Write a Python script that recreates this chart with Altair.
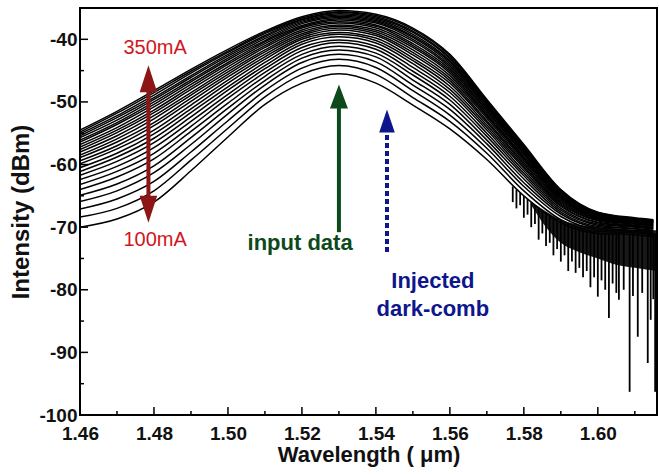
import altair as alt
import pandas as pd

# ---------------- data ----------------
currents = [100, 110, 120, 130, 140, 150, 160, 170, 180, 190, 200, 210, 220,
            230, 240, 250, 260, 270, 280, 290, 300, 310, 320, 330, 340, 350]

wavelengths = [1.46, 1.47, 1.48, 1.49, 1.50, 1.51, 1.52, 1.53, 1.54, 1.55,
               1.56, 1.57, 1.58, 1.59, 1.60, 1.61, 1.615]

# intensity (dBm) of every current at each wavelength (bottom curve first)
at_1460 = [-70.0, -68.4, -67.1, -65.9, -64.9, -64.0, -63.2, -62.4, -61.7, -61.1, -60.5, -59.9, -59.4,
           -58.9, -58.5, -58.0, -57.6, -57.2, -56.8, -56.4, -56.1, -55.7, -55.4, -55.1, -54.8, -54.5]
at_1470 = [-68.7, -67.0, -65.5, -64.2, -63.1, -62.0, -61.1, -60.3, -59.5, -58.8, -58.2, -57.5, -57.0,
           -56.4, -55.9, -55.4, -54.9, -54.5, -54.1, -53.6, -53.3, -52.9, -52.5, -52.2, -51.8, -51.5]
at_1480 = [-66.0, -64.2, -62.7, -61.3, -60.2, -59.1, -58.2, -57.3, -56.5, -55.8, -55.1, -54.5, -53.8,
           -53.3, -52.7, -52.2, -51.7, -51.3, -50.8, -50.4, -50.0, -49.6, -49.3, -48.9, -48.5, -48.2]
at_1490 = [-61.0, -59.3, -58.0, -56.8, -55.7, -54.7, -53.9, -53.1, -52.4, -51.7, -51.1, -50.5, -49.9,
           -49.4, -48.9, -48.5, -48.0, -47.6, -47.2, -46.8, -46.5, -46.1, -45.8, -45.4, -45.1, -44.8]
at_1500 = [-55.6, -54.2, -53.0, -51.9, -51.0, -50.2, -49.4, -48.8, -48.1, -47.6, -47.0, -46.5, -46.0,
           -45.6, -45.2, -44.8, -44.4, -44.0, -43.7, -43.3, -43.0, -42.7, -42.4, -42.1, -41.9, -41.6]
at_1510 = [-50.4, -49.2, -48.2, -47.3, -46.6, -45.9, -45.3, -44.7, -44.2, -43.7, -43.2, -42.8, -42.4,
           -42.0, -41.7, -41.3, -41.0, -40.7, -40.4, -40.2, -39.9, -39.6, -39.4, -39.1, -38.9, -38.7]
at_1520 = [-47.0, -45.6, -44.6, -43.7, -43.0, -42.4, -41.8, -41.3, -40.8, -40.4, -40.0, -39.7, -39.4,
           -39.1, -38.8, -38.5, -38.2, -38.0, -37.8, -37.5, -37.3, -37.1, -36.9, -36.8, -36.6, -36.4]
at_1530 = [-45.5, -44.2, -43.2, -42.4, -41.7, -41.1, -40.5, -40.1, -39.6, -39.2, -38.9, -38.5, -38.2,
           -37.9, -37.7, -37.4, -37.2, -36.9, -36.7, -36.5, -36.3, -36.1, -35.9, -35.7, -35.6, -35.4]
at_1540 = [-47.0, -45.6, -44.5, -43.6, -42.8, -42.2, -41.6, -41.1, -40.6, -40.2, -39.8, -39.4, -39.1,
           -38.8, -38.5, -38.2, -37.9, -37.7, -37.4, -37.2, -37.0, -36.8, -36.6, -36.4, -36.2, -36.0]
at_1550 = [-50.5, -49.3, -48.2, -47.3, -46.5, -45.7, -45.1, -44.5, -43.9, -43.4, -43.0, -42.5, -42.1,
           -41.7, -41.3, -41.0, -40.7, -40.3, -40.0, -39.7, -39.5, -39.2, -38.9, -38.7, -38.4, -38.2]
at_1560 = [-54.3, -53.1, -52.1, -51.2, -50.4, -49.7, -49.1, -48.5, -48.0, -47.5, -47.0, -46.6, -46.2,
           -45.8, -45.4, -45.1, -44.8, -44.5, -44.2, -43.9, -43.6, -43.4, -43.1, -42.9, -42.6, -42.4]
at_1570 = [-59.2, -58.2, -57.4, -56.7, -56.1, -55.5, -55.0, -54.5, -54.1, -53.7, -53.3, -53.0, -52.6,
           -52.3, -52.1, -51.8, -51.5, -51.3, -51.0, -50.8, -50.6, -50.4, -50.2, -50.0, -49.8, -49.6]
at_1580 = [-65.0, -64.2, -63.5, -62.9, -62.3, -61.8, -61.4, -61.0, -60.6, -60.3, -60.0, -59.7, -59.4,
           -59.1, -58.9, -58.7, -58.4, -58.2, -58.0, -57.8, -57.6, -57.5, -57.3, -57.1, -57.0, -56.8]
at_1590 = [-69.3, -68.8, -68.3, -67.9, -67.6, -67.3, -67.0, -66.7, -66.5, -66.3, -66.1, -65.9, -65.7,
           -65.5, -65.4, -65.2, -65.1, -64.9, -64.8, -64.7, -64.5, -64.4, -64.3, -64.2, -64.1, -64.0]
at_1600 = [-71.0, -70.7, -70.4, -70.1, -69.9, -69.7, -69.5, -69.3, -69.2, -69.0, -68.9, -68.8, -68.7,
           -68.6, -68.5, -68.4, -68.3, -68.2, -68.1, -68.0, -67.9, -67.9, -67.8, -67.7, -67.7, -67.6]
at_1610 = [-71.2, -70.9, -70.7, -70.5, -70.3, -70.2, -70.0, -69.9, -69.8, -69.7, -69.5, -69.5, -69.4,
           -69.3, -69.2, -69.1, -69.0, -69.0, -68.9, -68.8, -68.8, -68.7, -68.7, -68.6, -68.6, -68.5]
at_1615 = [-71.5, -71.2, -71.0, -70.8, -70.6, -70.5, -70.3, -70.2, -70.1, -70.0, -69.8, -69.8, -69.7,
           -69.6, -69.5, -69.4, -69.3, -69.3, -69.2, -69.1, -69.1, -69.0, -69.0, -68.9, -68.9, -68.8]

columns = [at_1460, at_1470, at_1480, at_1490, at_1500, at_1510, at_1520, at_1530, at_1540,
           at_1550, at_1560, at_1570, at_1580, at_1590, at_1600, at_1610, at_1615]

# noisy floor under the curves in the long-wavelength tail
noise_wl = [1.582, 1.586, 1.590, 1.595, 1.600, 1.605, 1.610, 1.616]
noise_hi = [-66.0, -67.5, -68.8, -69.6, -70.0, -70.2, -70.4, -70.5]
noise_lo = [-66.5, -70.0, -72.5, -74.0, -75.0, -76.0, -76.5, -77.0]

# noise dips in the long-wavelength tail
spike_wl = [1.577, 1.578, 1.579, 1.580, 1.581, 1.582, 1.583, 1.584, 1.585, 1.586, 1.587, 1.588,
            1.589, 1.590, 1.591, 1.592, 1.593, 1.594, 1.595, 1.596, 1.597, 1.598, 1.599, 1.600,
            1.601, 1.602, 1.603, 1.604, 1.605, 1.6057, 1.607, 1.6086, 1.6095, 1.6108, 1.612,
            1.6135, 1.6143, 1.615, 1.6155]
spike_top = [-63.5, -64.0, -64.5, -65.0, -65.5, -66.0, -66.5, -67.0, -67.3, -67.6, -68.0, -68.3,
             -68.6, -68.9, -69.2, -69.5, -69.7, -69.9, -70.1, -70.3, -70.5, -70.6, -70.7, -70.8,
             -70.9, -71.0, -71.0, -71.0, -71.0, -71.0, -71.0, -71.0, -71.0, -71.0, -71.0,
             -71.0, -71.0, -71.0, -71.0]
spike_bottom = [-66.0, -67.0, -66.5, -68.5, -68.0, -70.0, -69.5, -72.0, -71.0, -73.0, -72.5, -74.5,
                -73.5, -75.5, -74.5, -77.0, -75.5, -77.3, -76.5, -78.0, -77.0, -79.6, -78.0, -81.1,
                -78.5, -80.0, -84.5, -79.0, -80.5, -81.6, -80.0, -96.3, -81.0, -87.5, -80.5,
                -91.7, -84.8, -81.5, -96.3]

# axis ticks
x_major = [1.46, 1.48, 1.50, 1.52, 1.54, 1.56, 1.58, 1.60]
x_minor = [1.47, 1.49, 1.51, 1.53, 1.55, 1.57, 1.59, 1.61]
y_major = [-100, -90, -80, -70, -60, -50, -40]
y_minor = [-95, -85, -75, -65, -55, -45]

# annotations
shaft_wl = [1.4785, 1.5300]
shaft_from = [-48.0, -50.5]
shaft_to = [-65.5, -70.8]
shaft_color = ["#8C1515", "#0C4A1C"]

dash_wl = [1.5430]
dash_from = [-54.0]
dash_to = [-74.4]

head_wl = [1.4785, 1.4785, 1.5300, 1.5430]
head_db = [-44.15, -69.3, -47.2, -51.2]
head_color = ["#8C1515", "#8C1515", "#0C4A1C", "#0D168C"]

ma_text = ["350mA", "100mA"]
ma_wl = [1.4803, 1.4803]
ma_db = [-41.4, -72.1]

note_text = ["input data", "Injected", "dark-comb"]
note_wl = [1.5195, 1.5554, 1.5554]
note_db = [-72.5, -78.6, -83.1]
note_color = ["#0C4A1C", "#0D168C", "#0D168C"]

# ---------------- tables ----------------
rows = []
for wl, col in zip(wavelengths, columns):
    for cur, v in zip(currents, col):
        rows.append({"wl": wl, "dbm": v, "mA": cur})
spectra = pd.DataFrame(rows)

noise = pd.DataFrame({"wl": noise_wl, "dbm": noise_hi, "lo": noise_lo})
spikes = pd.DataFrame({"wl": spike_wl, "dbm": spike_top, "bottom": spike_bottom})
shafts = pd.DataFrame({"wl": shaft_wl, "dbm": shaft_from, "b": shaft_to, "c": shaft_color})
dashes = pd.DataFrame({"wl": dash_wl, "dbm": dash_from, "b": dash_to})
UP_RED = "M0,0L0.65,2L-0.65,2Z"
DOWN_RED = "M0,0L0.65,-2L-0.65,-2Z"
UP_GREEN = "M0,0L0.75,2L-0.75,2Z"
UP_BLUE = "M0,0L0.68,2L-0.68,2Z"
heads = pd.DataFrame({"wl": head_wl, "dbm": head_db, "c": head_color,
                      "shape": [UP_RED, DOWN_RED, UP_GREEN, UP_BLUE],
                      "size": [729, 729, 576, 529]})
ma = pd.DataFrame({"t": ma_text, "wl": ma_wl, "dbm": ma_db})
notes = pd.DataFrame({"t": note_text, "wl": note_wl, "dbm": note_db, "c": note_color})
xmaj = pd.DataFrame({"wl": x_major})
xmin = pd.DataFrame({"wl": x_minor})
ymaj = pd.DataFrame({"dbm": y_major})
ymin = pd.DataFrame({"dbm": y_minor})

W, H = 577, 407
FONT = "Liberation Sans"
xs = alt.Scale(domain=[1.46, 1.616], nice=False, zero=False)
ys = alt.Scale(domain=[-100, -35], nice=False, zero=False)
x_axis = alt.Axis(values=x_major, format=".2f", ticks=False, tickSize=0, domain=False, grid=False,
                  labelFlush=False, labelOverlap=False, labelPadding=9,
                  title="Wavelength ( μm)", titlePadding=1, titleFontSize=22)
y_axis = alt.Axis(values=y_major, labelExpr="'' + datum.value", ticks=False, tickSize=0,
                  domain=False, grid=False, labelFlush=False, labelOverlap=False, labelPadding=3,
                  title="Intensity (dBm)", titlePadding=5, titleFontSize=24)


def X():
    return alt.X("wl:Q", scale=xs, axis=x_axis, title="Wavelength ( μm)")


def Y():
    return alt.Y("dbm:Q", scale=ys, axis=y_axis, title="Intensity (dBm)")


lines = alt.Chart(spectra).mark_line(color="black", strokeWidth=1.5, interpolate="monotone",
                                     clip=True).encode(x=X(), y=Y(), detail="mA:N")

noise_layer = alt.Chart(noise).mark_area(color="black", opacity=0.9, interpolate="monotone",
                                         clip=True).encode(x=X(), y=Y(), y2="lo:Q")

spike_layer = alt.Chart(spikes).mark_rule(color="black", strokeWidth=1.8, clip=True).encode(
    x=X(), y=Y(), y2="bottom:Q")

xt_major = alt.Chart(xmaj).mark_rule(color="black", strokeWidth=1.5).encode(
    x=X(), y=alt.value(H), y2=alt.value(H - 8))
xt_minor = alt.Chart(xmin).mark_rule(color="black", strokeWidth=1.5).encode(
    x=X(), y=alt.value(H), y2=alt.value(H - 4))
yt_major = alt.Chart(ymaj).mark_rule(color="black", strokeWidth=1.5).encode(
    y=Y(), x=alt.value(0), x2=alt.value(8))
yt_minor = alt.Chart(ymin).mark_rule(color="black", strokeWidth=1.5).encode(
    y=Y(), x=alt.value(0), x2=alt.value(4))

shaft_layer = alt.Chart(shafts).mark_rule(strokeWidth=4).encode(
    x=X(), y=Y(), y2="b:Q", color=alt.Color("c:N", scale=None))
dash_layer = alt.Chart(dashes).mark_rule(strokeWidth=4, strokeDash=[5, 3], color="#0D168C").encode(
    x=X(), y=Y(), y2="b:Q")
head_layer = alt.Chart(heads).mark_point(filled=True, opacity=1, strokeWidth=0).encode(
    x=X(), y=Y(),
    color=alt.Color("c:N", scale=None), shape=alt.Shape("shape:N", scale=None),
    size=alt.Size("size:Q", scale=None))

ma_layer = alt.Chart(ma).mark_text(font=FONT, fontSize=20, color="#D0161E", align="center",
                                   baseline="middle").encode(x=X(), y=Y(), text="t:N")
note_layer = alt.Chart(notes).mark_text(font=FONT, fontSize=22, fontWeight="bold", align="center",
                                        baseline="middle").encode(
    x=X(), y=Y(), text="t:N", color=alt.Color("c:N", scale=None))

chart = alt.layer(
    lines, noise_layer, spike_layer, xt_major, xt_minor, yt_major, yt_minor,
    shaft_layer, dash_layer, head_layer, ma_layer, note_layer
).properties(
    width=W, height=H, autosize=alt.AutoSizeParams(type="none"),
    padding={"left": 80, "top": 8, "right": 2, "bottom": 61},
    background="white",
).configure_view(
    stroke="black", strokeWidth=2
).configure_axis(
    labelFont=FONT, labelFontSize=19, labelFontWeight="bold", labelColor="#111111",
    titleFont=FONT, titleFontWeight="bold", titleColor="#111111",
)

chart.save("out.html", embed_options={"renderer": "svg", "actions": False})
